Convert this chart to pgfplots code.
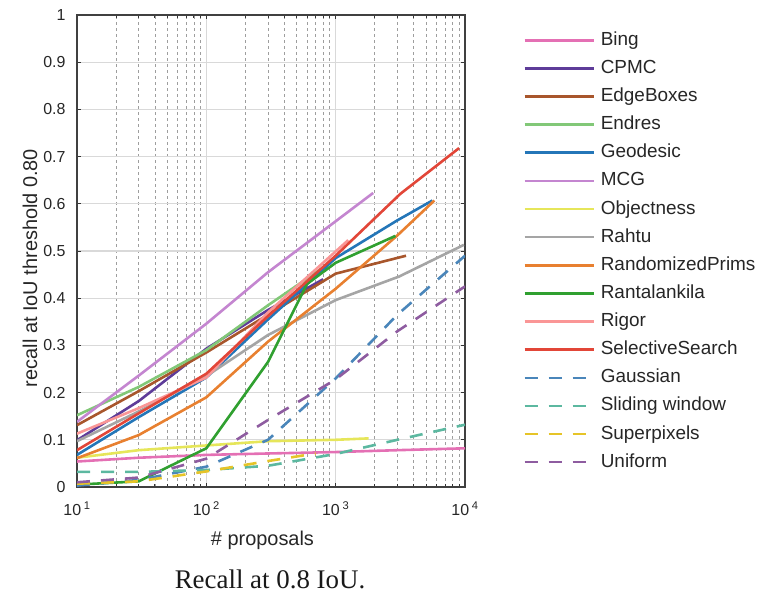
\documentclass[border=0pt]{standalone}
\usepackage{fontspec}
\setmainfont{Liberation Sans}
\newfontfamily\capfont{Liberation Serif}
\usepackage{pgfplots}
\pgfplotsset{compat=1.18}

\definecolor{cBing}{RGB}{228,112,180}
\definecolor{cCPMC}{RGB}{94,60,153}
\definecolor{cEdge}{RGB}{168,86,44}
\definecolor{cEndres}{RGB}{130,200,120}
\definecolor{cGeo}{RGB}{36,118,184}
\definecolor{cMCG}{RGB}{196,134,208}
\definecolor{cObj}{RGB}{230,230,90}
\definecolor{cRahtu}{RGB}{165,165,165}
\definecolor{cPrims}{RGB}{232,128,48}
\definecolor{cRant}{RGB}{48,160,48}
\definecolor{cRigor}{RGB}{250,150,150}
\definecolor{cSel}{RGB}{226,70,56}
\definecolor{cGauss}{RGB}{74,134,186}
\definecolor{cSlide}{RGB}{92,184,160}
\definecolor{cSuper}{RGB}{230,196,40}
\definecolor{cUni}{RGB}{142,92,160}

\begin{document}
\begin{tikzpicture}[x=1bp,y=1bp]
\useasboundingbox (-77,-106) rectangle (688,487);
\begin{semilogxaxis}[
  scale only axis, width=388bp, height=472bp,
  xmin=10, xmax=10000, ymin=0, ymax=1,
  xtick={10,100,1000,10000},
  xticklabels={10\,\textsuperscript{1},10\,\textsuperscript{2},10\,\textsuperscript{3},10\,\textsuperscript{4}},
  minor xtick={20,30,40,50,60,70,80,90,200,300,400,500,600,700,800,900,2000,3000,4000,5000,6000,7000,8000,9000},
  ytick={0,0.1,0.2,0.3,0.4,0.5,0.6,0.7,0.8,0.9,1},
  yticklabels={0,0.1,0.2,0.3,0.4,0.5,0.6,0.7,0.8,0.9,1},
  tick label style={font=\fontsize{16}{16}\selectfont, text=black!85},
  xticklabel style={yshift=-11bp},
  yticklabel style={xshift=-8bp},
  xlabel={\# proposals},
  ylabel={recall at IoU threshold 0.80},
  label style={font=\fontsize{20}{20}\selectfont, text=black!85},
  xlabel style={at={(axis description cs:0.478,-0.112)}, anchor=center},
  ylabel style={at={(axis description cs:-0.121,0.464)}, anchor=center},
  grid=both,
  major grid style={draw=black!15, line width=1.2bp},
  minor grid style={draw=black!38, line width=0.6bp, dash pattern=on 3bp off 3bp},
  tick align=inside,
  major tick length=4bp, minor tick length=3bp,
  tick style={draw=black!80, line width=0.8bp},
  axis line style={draw=black!75, line width=1.3bp},
  every axis plot/.append style={line width=2.6bp, line join=round},
  legend style={draw=none, fill=none, inner sep=0pt,
    at={(1.1495,0.966)}, anchor=north west,
    font=\fontsize{19}{19}\selectfont, text=black!85,
    row sep=10.13bp, column sep=6bp,
    nodes={inner sep=0pt, text height=14bp, text depth=4bp}},
  legend cell align=left,
  legend image code/.code={\draw[#1] (0bp,0bp) -- (69bp,0bp);},
]
% region-based methods
\addplot[cBing] coordinates {(10,0.054)(30,0.062)(100,0.068)(300,0.071)(1000,0.074)(3000,0.078)(10000,0.082)};
\addlegendentry{Bing}
\addplot[cCPMC] coordinates {(10,0.099)(30,0.182)(100,0.293)(300,0.375)(800,0.44)};
\addlegendentry{CPMC}
\addplot[cEdge] coordinates {(10,0.131)(30,0.203)(100,0.285)(300,0.365)(1000,0.452)(3500,0.49)};
\addlegendentry{EdgeBoxes}
\addplot[cEndres] coordinates {(10,0.152)(30,0.212)(100,0.29)(300,0.385)(800,0.465)};
\addlegendentry{Endres}
\addplot[cGeo] coordinates {(10,0.068)(30,0.148)(100,0.232)(300,0.355)(1000,0.485)(3000,0.565)(5600,0.607)};
\addlegendentry{Geodesic}
\addplot[cMCG] coordinates {(10,0.138)(30,0.236)(100,0.346)(300,0.455)(1000,0.563)(1950,0.623)};
\addlegendentry{MCG}
\addplot[cObj] coordinates {(10,0.062)(30,0.078)(100,0.088)(300,0.097)(1000,0.1)(1800,0.103)};
\addlegendentry{Objectness}
\addplot[cRahtu] coordinates {(10,0.097)(30,0.16)(100,0.235)(300,0.322)(1000,0.396)(3100,0.446)(9800,0.513)};
\addlegendentry{Rahtu}
\addplot[cPrims] coordinates {(10,0.061)(30,0.11)(100,0.19)(300,0.308)(1000,0.42)(3000,0.533)(5800,0.607)};
\addlegendentry{RandomizedPrims}
\addplot[cRant] coordinates {(10,0.005)(30,0.012)(100,0.082)(300,0.265)(600,0.43)(1000,0.475)(2900,0.532)};
\addlegendentry{Rantalankila}
\addplot[cRigor] coordinates {(10,0.113)(30,0.167)(100,0.232)(300,0.37)(1250,0.523)};
\addlegendentry{Rigor}
\addplot[cSel] coordinates {(10,0.078)(30,0.156)(100,0.24)(300,0.362)(1000,0.49)(3160,0.621)(9000,0.718)};
\addlegendentry{SelectiveSearch}
% baselines
\addplot[cGauss, dash pattern=on 13bp off 11bp] coordinates {(10,0.003)(30,0.015)(100,0.043)(300,0.1)(1000,0.23)(3000,0.365)(10000,0.49)};
\addlegendentry{Gaussian}
\addplot[cSlide, dash pattern=on 13bp off 11bp] coordinates {(10,0.032)(30,0.032)(100,0.036)(300,0.045)(1000,0.07)(3000,0.1)(10000,0.132)};
\addlegendentry{Sliding window}
\addplot[cSuper, dash pattern=on 13bp off 11bp] coordinates {(10,0.007)(30,0.012)(100,0.033)(300,0.055)(700,0.071)};
\addlegendentry{Superpixels}
\addplot[cUni, dash pattern=on 13bp off 11bp] coordinates {(10,0.01)(30,0.02)(100,0.06)(300,0.142)(1000,0.228)(3000,0.33)(10000,0.425)};
\addlegendentry{Uniform}
\end{semilogxaxis}
\node[font=\capfont\fontsize{27}{27}\selectfont, text=black!90] at (193,-92) {Recall at 0.8 IoU.};
\end{tikzpicture}
\end{document}
